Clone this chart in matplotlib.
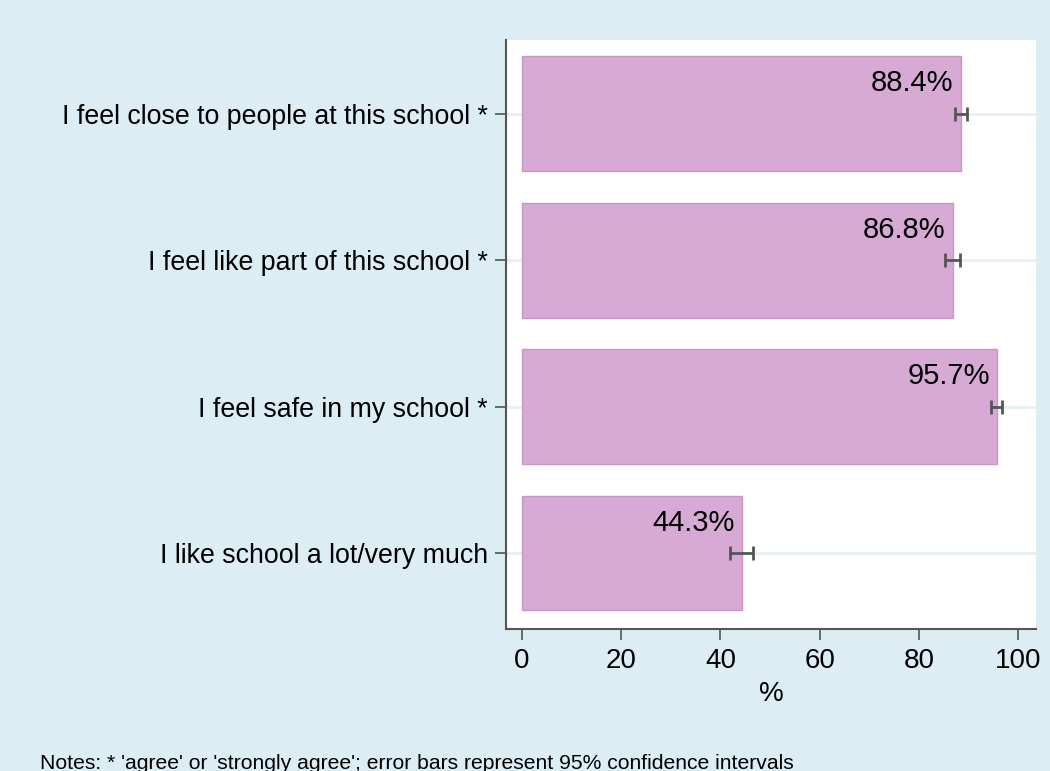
import matplotlib.pyplot as plt
import matplotlib
import numpy as np

matplotlib.rcParams['font.family'] = ['Liberation Sans', 'DejaVu Sans']

# data: share agreeing with each statement, with 95% CI bounds
labels = ['I like school a lot/very much',
          'I feel safe in my school *',
          'I feel like part of this school *',
          'I feel close to people at this school *']
pct = [44.3, 95.7, 86.8, 88.4]
ci_low = [41.9, 94.5, 85.2, 87.2]
ci_high = [46.5, 96.8, 88.3, 89.6]

bg = '#dcedf4'
bar_col = '#d6aad5'
edge_col = '#c996c8'
dark = '#555555'

fig = plt.figure(figsize=(10.5, 7.71), dpi=100, facecolor=bg)
ax = fig.add_axes([506/1050, 1 - 629/771, 530/1050, 589/771])
ax.set_facecolor('white')

y = np.arange(len(labels))
height = 0.785

# horizontal grid lines at each category
for yy in y:
    ax.axhline(yy, color='#e6f0f2', lw=2, zorder=0)

bars = ax.barh(y, pct, height, color=bar_col, edgecolor=edge_col, lw=1, zorder=2)

err = [np.array(pct) - np.array(ci_low), np.array(ci_high) - np.array(pct)]
ax.errorbar(pct, y, xerr=err, fmt='none', ecolor=dark, elinewidth=2,
            capsize=5, capthick=2, zorder=3)

# value labels inside top right of bars
for b, v in zip(bars, pct):
    ax.annotate(f'{v}%', xy=(b.get_width(), b.get_y() + b.get_height()),
                xytext=(-7, -13), textcoords='offset pixels',
                ha='right', va='top', fontsize=21, color='black', zorder=4)

ax.set_xlim(-3.2, 103.6)
ax.set_ylim(-0.519, 3.505)
ax.set_xticks(np.arange(0, 101, 20))
ax.set_yticks(y)
ax.set_yticklabels(labels, fontsize=19.3)
ax.tick_params(axis='both', length=8, width=1.2, color=dark, pad=5)
ax.tick_params(axis='x', labelsize=20, pad=6)
ax.set_xlabel('%', fontsize=20, labelpad=5)

for s in ['top', 'right']:
    ax.spines[s].set_visible(False)
for s in ['left', 'bottom']:
    ax.spines[s].set_color(dark)
    ax.spines[s].set_linewidth(1.5)

fig.text(40/1050, 1 - 769/771,
         "Notes: * 'agree' or 'strongly agree'; error bars represent 95% confidence intervals",
         fontsize=15.2, ha='left', va='baseline')

plt.savefig('out.png', dpi=100, facecolor=bg)
plt.close()
